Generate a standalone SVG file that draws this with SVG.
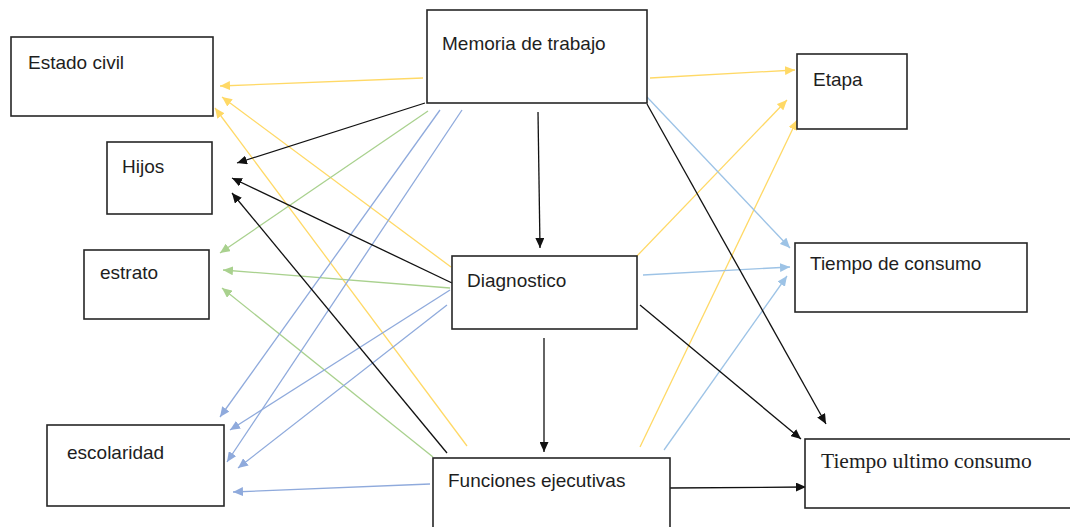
<svg xmlns="http://www.w3.org/2000/svg" width="1070" height="527" viewBox="0 0 1070 527">
  <style>
    .box { fill: #ffffff; stroke: #262626; stroke-width: 1.6; }
    .lbl { font-family: "Liberation Sans", Arial, sans-serif; font-size: 19px; fill: #1e1e1e; }
    .lbl-serif { font-family: "Liberation Serif", "Times New Roman", serif; font-size: 21.5px; fill: #1e1e1e; }
    .c { fill: none; stroke-width: 1.3; }
    .yellow { stroke: #FFD966; marker-end: url(#ah-yellow); }
    .green { stroke: #A9D18E; marker-end: url(#ah-green); }
    .blue { stroke: #8FAADC; marker-end: url(#ah-blue); }
    .lblue { stroke: #9DC3E6; marker-end: url(#ah-lblue); }
    .black { stroke: #111111; marker-end: url(#ah-black); }
  </style>
  <defs>
    <marker id="ah-yellow" viewBox="0 0 10 9" refX="10" refY="4.5" markerWidth="10" markerHeight="9" markerUnits="userSpaceOnUse" orient="auto">
      <path d="M0,0 L10,4.5 L0,9 z" fill="#FFD966"/>
    </marker>
    <marker id="ah-green" viewBox="0 0 10 9" refX="10" refY="4.5" markerWidth="10" markerHeight="9" markerUnits="userSpaceOnUse" orient="auto">
      <path d="M0,0 L10,4.5 L0,9 z" fill="#A9D18E"/>
    </marker>
    <marker id="ah-blue" viewBox="0 0 10 9" refX="10" refY="4.5" markerWidth="10" markerHeight="9" markerUnits="userSpaceOnUse" orient="auto">
      <path d="M0,0 L10,4.5 L0,9 z" fill="#8FAADC"/>
    </marker>
    <marker id="ah-lblue" viewBox="0 0 10 9" refX="10" refY="4.5" markerWidth="10" markerHeight="9" markerUnits="userSpaceOnUse" orient="auto">
      <path d="M0,0 L10,4.5 L0,9 z" fill="#9DC3E6"/>
    </marker>
    <marker id="ah-black" viewBox="0 0 10 9" refX="10" refY="4.5" markerWidth="10" markerHeight="9" markerUnits="userSpaceOnUse" orient="auto">
      <path d="M0,0 L10,4.5 L0,9 z" fill="#111111"/>
    </marker>
  </defs>

  <rect width="1070" height="527" fill="#ffffff"/>

  <!-- connectors -->
  <g id="connectors">
    <!-- yellow -->
    <line class="c yellow" x1="423" y1="78" x2="220" y2="86"/>
    <line class="c yellow" x1="650" y1="78" x2="795" y2="70"/>
    <line class="c yellow" x1="451" y1="267" x2="222" y2="97"/>
    <line class="c yellow" x1="467" y1="446" x2="215" y2="108"/>
    <line class="c yellow" x1="636" y1="257" x2="787" y2="100"/>
    <line class="c yellow" x1="640" y1="447" x2="797" y2="120"/>
    <!-- green -->
    <line class="c green" x1="428" y1="111" x2="220" y2="253"/>
    <line class="c green" x1="450" y1="288" x2="223" y2="270"/>
    <line class="c green" x1="433" y1="457" x2="222" y2="288"/>
    <!-- blue -->
    <line class="c blue" x1="440" y1="110" x2="220" y2="417"/>
    <line class="c blue" x1="462" y1="110" x2="227" y2="462"/>
    <line class="c blue" x1="450" y1="290" x2="230" y2="430"/>
    <line class="c blue" x1="447" y1="305" x2="238" y2="468"/>
    <line class="c blue" x1="430" y1="484" x2="233" y2="492"/>
    <!-- light blue -->
    <line class="c lblue" x1="647" y1="97" x2="790" y2="248"/>
    <line class="c lblue" x1="643" y1="275" x2="790" y2="267"/>
    <line class="c lblue" x1="664" y1="450" x2="787" y2="276"/>
    <!-- black -->
    <line class="c black" x1="425" y1="103" x2="237" y2="163"/>
    <line class="c black" x1="538" y1="112" x2="540" y2="248"/>
    <line class="c black" x1="647" y1="104" x2="826" y2="424"/>
    <line class="c black" x1="452" y1="283" x2="232" y2="178"/>
    <line class="c black" x1="640" y1="305" x2="801" y2="439"/>
    <line class="c black" x1="544" y1="338" x2="544" y2="452"/>
    <line class="c black" x1="447" y1="453" x2="232" y2="193"/>
    <line class="c black" x1="670" y1="488" x2="806" y2="487"/>
  </g>

  <!-- nodes -->
  <g id="estado-civil">
    <rect class="box" x="11" y="37" width="202" height="79"/>
    <text class="lbl" x="28" y="69">Estado civil</text>
  </g>
  <g id="hijos">
    <rect class="box" x="107" y="142" width="105" height="72"/>
    <text class="lbl" x="122" y="173">Hijos</text>
  </g>
  <g id="estrato">
    <rect class="box" x="84" y="250" width="125" height="69"/>
    <text class="lbl" x="100" y="279">estrato</text>
  </g>
  <g id="escolaridad">
    <rect class="box" x="47" y="425" width="177" height="81"/>
    <text class="lbl" x="67" y="459">escolaridad</text>
  </g>
  <g id="memoria-de-trabajo">
    <rect class="box" x="427" y="10" width="220" height="93"/>
    <text class="lbl" x="442" y="50">Memoria de trabajo</text>
  </g>
  <g id="diagnostico">
    <rect class="box" x="452" y="256" width="185" height="73"/>
    <text class="lbl" x="467" y="287">Diagnostico</text>
  </g>
  <g id="funciones-ejecutivas">
    <rect class="box" x="433" y="458" width="237" height="80"/>
    <text class="lbl" x="448" y="487">Funciones ejecutivas</text>
  </g>
  <g id="etapa">
    <rect class="box" x="797" y="54" width="110" height="75"/>
    <text class="lbl" x="813" y="86">Etapa</text>
  </g>
  <g id="tiempo-de-consumo">
    <rect class="box" x="795" y="243" width="232" height="69"/>
    <text class="lbl" x="810" y="270">Tiempo de consumo</text>
  </g>
  <g id="tiempo-ultimo-consumo">
    <rect class="box" x="805" y="439" width="280" height="69"/>
    <text class="lbl-serif" x="821" y="468">Tiempo ultimo consumo</text>
  </g>
</svg>
